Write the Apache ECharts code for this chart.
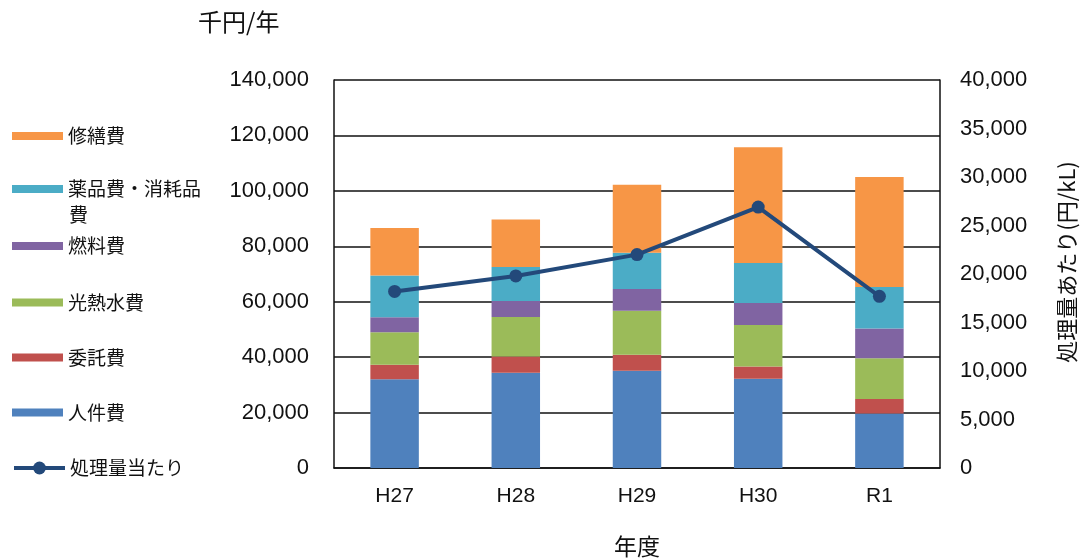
<!DOCTYPE html>
<html><head><meta charset="utf-8">
<script src="https://cdn.jsdelivr.net/npm/echarts@6/dist/echarts.min.js"></script>
<style>html,body{margin:0;padding:0;background:#fff}#c{width:1082px;height:560px}</style>
</head><body><div id="c"></div>
<script>
const categories = ['H27','H28','H29','H30','R1'];
const jinken   = [32000, 34400, 35100, 32200, 19700];
const itaku    = [5300, 5800, 5800, 4400, 5200];
const kounetsu = [11700, 14300, 15800, 15000, 14700];
const nenryo   = [5400, 5800, 7900, 7900, 10700];
const yakuhin  = [15100, 12200, 13100, 14500, 15000];
const shuzen   = [17100, 17200, 24500, 41700, 39700];
const perUnit  = [18200, 19800, 22000, 26900, 17700];
const leftTicks = [0, 140000, 20000];
const rightTicks = [0, 40000, 5000];

const jp = '"Noto Sans CJK JP", "Liberation Sans", sans-serif';
const num = '"Liberation Sans", Arial, sans-serif';
const colors = {
  '修繕費':'#F79646', '薬品費・消耗品費':'#4BACC6', '燃料費':'#8064A2',
  '光熱水費':'#9BBB59', '委託費':'#C0504D', '人件費':'#4F81BD', '処理量当たり':'#23497A'
};
const legendOrder = ['修繕費','薬品費・消耗品費','燃料費','光熱水費','委託費','人件費','処理量当たり'];
const legendCenters = [135, 188, 245, 301.5, 356.5, 411.5, 468];
const legends = legendOrder.map((n, i) => {
  const isLine = n === '処理量当たり';
  return {
    data: [n], left: 7, top: legendCenters[i] - (isLine ? 15 : 14), orient: 'vertical',
    itemWidth: 51, itemHeight: isLine ? 16 : 8, itemGap: 0,
    icon: isLine ? undefined : 'rect',
    lineStyle: isLine ? { width: 4 } : undefined,
    selectedMode: false,
    formatter: s => s === '薬品費・消耗品費' ? '薬品費・消耗品' : s,
    textStyle: { fontFamily: jp, fontSize: 19, color: '#111', lineHeight: 20 }
  };
});
const barSeries = [
  ['人件費', jinken], ['委託費', itaku], ['光熱水費', kounetsu],
  ['燃料費', nenryo], ['薬品費・消耗品費', yakuhin], ['修繕費', shuzen]
].map(([n, d]) => ({
  name: n, type: 'bar', stack: 'cost', data: d, barWidth: '40%',
  itemStyle: { color: colors[n] }
}));
const chart = echarts.init(document.getElementById('c'));
chart.setOption({
  animation: false,
  title: { text: '千円/年', left: 193, top: 5, textStyle: { fontFamily: jp, fontSize: 24, fontWeight: 'normal', color: '#111' } },
  legend: legends,
  graphic: [{
    type: 'text', left: 69, top: 205,
    style: { text: '費', font: '19px "Noto Sans CJK JP"', fill: '#111' }
  }],
  grid: { left: 334, right: 142, top: 80, bottom: 92, outerBoundsMode: 'none' },
  xAxis: {
    type: 'category', data: categories,
    name: '年度', nameLocation: 'middle', nameGap: 67,
    nameTextStyle: { fontFamily: jp, fontSize: 23, color: '#111' },
    axisLine: { lineStyle: { color: '#111', width: 1.5 } }, axisTick: { show: false },
    axisLabel: { fontFamily: num, fontSize: 21, color: '#111', margin: 18 }
  },
  yAxis: [{
    type: 'value', min: leftTicks[0], max: leftTicks[1], interval: leftTicks[2],
    axisLine: { show: true, lineStyle: { color: '#111', width: 1.5 } }, axisTick: { show: false },
    splitLine: { lineStyle: { color: '#111', width: 1.5 } },
    axisLabel: { fontFamily: num, fontSize: 22, color: '#111', margin: 25,
      formatter: v => v.toLocaleString('en-US') }
  }, {
    type: 'value', min: rightTicks[0], max: rightTicks[1], interval: rightTicks[2],
    position: 'right',
    name: '処理量あたり(円/kL)', nameLocation: 'middle', nameGap: 116, nameRotate: 90,
    nameTextStyle: { fontFamily: jp, fontSize: 22, color: '#111', padding: [0, 0, 0, 24] },
    axisLine: { show: true, lineStyle: { color: '#111', width: 1.5 } }, axisTick: { show: false },
    splitLine: { show: false },
    axisLabel: { fontFamily: num, fontSize: 22, color: '#111', margin: 20,
      formatter: v => v.toLocaleString('en-US') }
  }],
  series: barSeries.concat([{
    name: '処理量当たり', type: 'line', yAxisIndex: 1, data: perUnit,
    symbol: 'circle', symbolSize: 13,
    lineStyle: { color: colors['処理量当たり'], width: 4 },
    itemStyle: { color: colors['処理量当たり'] }
  }])
});
</script></body></html>
